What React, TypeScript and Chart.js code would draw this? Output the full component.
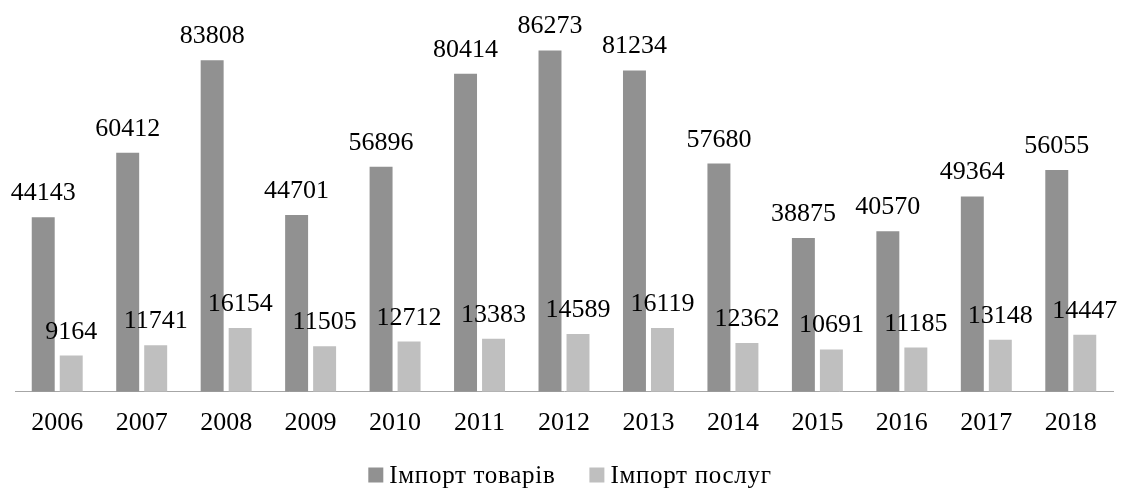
import React, { useEffect, useRef } from "react";
import { Chart, registerables } from "chart.js";

Chart.register(...registerables);

const years = ["2006", "2007", "2008", "2009", "2010", "2011", "2012", "2013", "2014", "2015", "2016", "2017", "2018"];
const goodsImport = [44143, 60412, 83808, 44701, 56896, 80414, 86273, 81234, 57680, 38875, 40570, 49364, 56055];
const servicesImport = [9164, 11741, 16154, 11505, 12712, 13383, 14589, 16119, 12362, 10691, 11185, 13148, 14447];
const seriesNames = ["Імпорт товарів", "Імпорт послуг"];
const seriesColors = ["#919191", "#bfbfbf"];

const FONT = "'Liberation Serif', 'Times New Roman', serif";

const valueLabels = {
  id: "valueLabels",
  afterDatasetsDraw(chart: any) {
    const ctx = chart.ctx;
    ctx.save();
    ctx.font = `26px ${FONT}`;
    ctx.fillStyle = "#000";
    ctx.textAlign = "center";
    ctx.textBaseline = "alphabetic";
    chart.data.datasets.forEach((ds: any, i: number) => {
      const meta = chart.getDatasetMeta(i);
      meta.data.forEach((el: any, j: number) => {
        ctx.fillText(String(ds.data[j]), el.x, el.y - 17);
      });
    });
    ctx.restore();
  },
};

const bottomLegend = {
  id: "bottomLegend",
  afterDraw(chart: any) {
    const ctx = chart.ctx;
    ctx.save();
    ctx.font = `25px ${FONT}`;
    try {
      (ctx as any).letterSpacing = "0.7px";
    } catch (e) {}
    ctx.textBaseline = "middle";
    ctx.textAlign = "left";
    const box = 15;
    const gapText = 6;
    const gapItem = 34;
    const widths = chart.data.datasets.map((d: any) => ctx.measureText(d.label).width);
    let total = 0;
    widths.forEach((w: number, i: number) => {
      total += box + gapText + w + (i < widths.length - 1 ? gapItem : 0);
    });
    let x = 570 - total / 2;
    const cy = 475;
    chart.data.datasets.forEach((d: any, i: number) => {
      ctx.fillStyle = d.backgroundColor;
      ctx.fillRect(x, cy - box / 2, box, box);
      x += box + gapText;
      ctx.fillStyle = "#000";
      ctx.fillText(d.label, x, cy + 1);
      x += widths[i] + gapItem;
    });
    ctx.restore();
  },
};

export default function App() {
  const ref = useRef<HTMLCanvasElement | null>(null);
  useEffect(() => {
    document.body.style.margin = "0";
    let chart: Chart | null = null;
    let cancelled = false;
    const make = () => {
      if (cancelled || !ref.current) return;
      chart = new Chart(ref.current as HTMLCanvasElement, {
        type: "bar",
        data: {
          labels: years,
          datasets: [
            {
              label: seriesNames[0],
              data: goodsImport,
              backgroundColor: seriesColors[0],
              categoryPercentage: 0.663,
              barPercentage: 0.82,
            },
            {
              label: seriesNames[1],
              data: servicesImport,
              backgroundColor: seriesColors[1],
              categoryPercentage: 0.663,
              barPercentage: 0.82,
            },
          ],
        },
        options: {
          animation: false,
          responsive: false,
          maintainAspectRatio: false,
          layout: { padding: { left: 15, right: 12, top: 8, bottom: 36 } },
          scales: {
            x: {
              grid: { display: false, drawTicks: false },
              border: { display: true, color: "#a6a6a6", width: 1 },
              ticks: { color: "#000", font: { family: FONT, size: 26 }, padding: 16 },
            },
            y: {
              display: false,
              min: 0,
              max: 97000,
            },
          },
          plugins: {
            legend: { display: false },
            tooltip: { enabled: false },
          },
        },
        plugins: [valueLabels, bottomLegend],
      });
    };
    const fonts: any = (document as any).fonts;
    if (fonts && fonts.load) {
      Promise.all([
        fonts.load(`26px 'Liberation Serif'`, "0123456789"),
        fonts.load(`25px 'Liberation Serif'`, "Імпорт товарів послуг"),
      ]).then(make, make);
    } else {
      make();
    }
    return () => {
      cancelled = true;
      if (chart) chart.destroy();
    };
  }, []);
  return <canvas ref={ref} width={1125} height={491} style={{ display: "block" }} />;
}
